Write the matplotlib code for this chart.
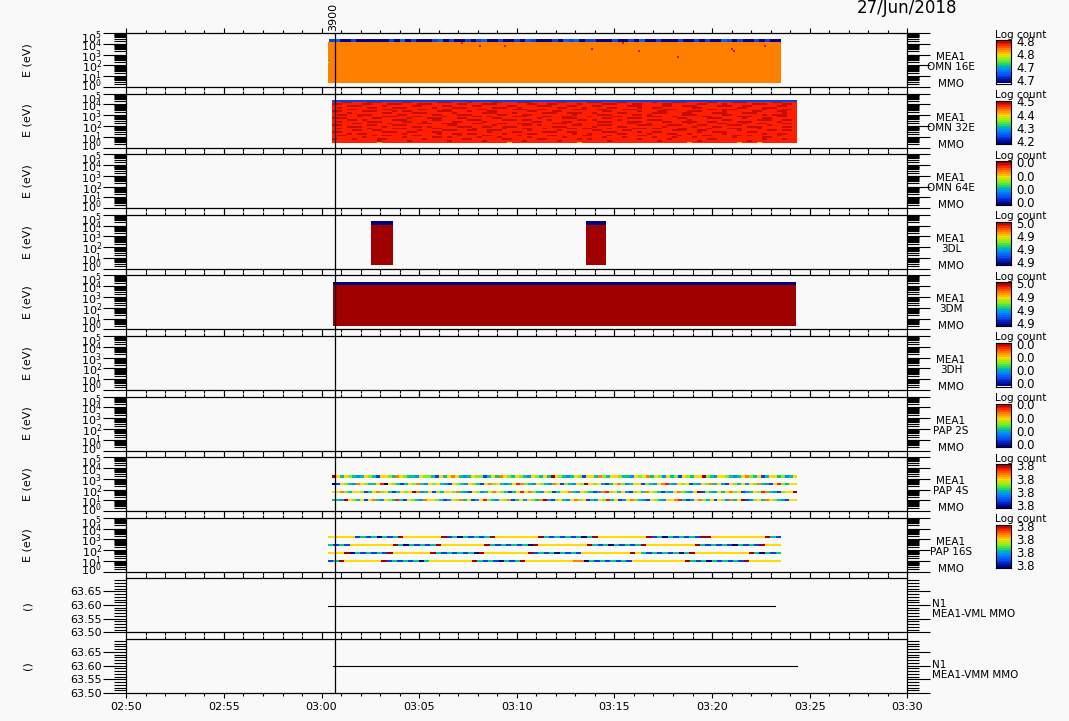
import numpy as np
import matplotlib
matplotlib.use('Agg')
import matplotlib.pyplot as plt
from matplotlib.colors import LinearSegmentedColormap
from matplotlib.ticker import LogLocator, MultipleLocator, FixedLocator, NullFormatter
from matplotlib.transforms import ScaledTranslation

plt.rcParams['font.family'] = 'DejaVu Sans'
plt.rcParams['mathtext.default'] = 'regular'

BG = '#f9f9f9'

# time is minutes after 02:50
time_ticks = [0, 5, 10, 15, 20, 25, 30, 35, 40]
time_labels = ['02:50', '02:55', '03:00', '03:05', '03:10', '03:15', '03:20', '03:25', '03:30']
marker_time = 10.7
marker_label = '3900'
date_label = '27/Jun/2018'

panel_names = [['MEA1', 'OMN 16E', 'MMO'], ['MEA1', 'OMN 32E', 'MMO'], ['MEA1', 'OMN 64E', 'MMO'],
               ['MEA1', '3DL', 'MMO'], ['MEA1', '3DM', 'MMO'], ['MEA1', '3DH', 'MMO'],
               ['MEA1', 'PAP 2S', 'MMO'], ['MEA1', 'PAP 4S', 'MMO'], ['MEA1', 'PAP 16S', 'MMO']]
cbar_labels = [['4.8', '4.8', '4.7', '4.7'], ['4.5', '4.4', '4.3', '4.2'], ['0.0', '0.0', '0.0', '0.0'],
               ['5.0', '4.9', '4.9', '4.9'], ['5.0', '4.9', '4.9', '4.9'], ['0.0', '0.0', '0.0', '0.0'],
               ['0.0', '0.0', '0.0', '0.0'], ['3.8', '3.8', '3.8', '3.8'], ['3.8', '3.8', '3.8', '3.8']]
line_names = [['N1', 'MEA1-VML MMO'], ['N1', 'MEA1-VMM MMO']]

# colour code -> level on the colour bar
levels = {'n': 0.0, 'b': 0.15, 'C': 0.21, 'c': 0.3, 'g': 0.4, 'l': 0.52, 'y': 0.65, 's': 0.72, 'o': 0.78,
          'R': 0.88, 'r': 1.0, '.': 0.88, 'd': 0.95}

# OMN 16E
omn16_time = [10.33, 33.53]
omn16_top_time = [10.38, 33.53]
omn16_log_e = [0.39, 4.15, 4.45]
omn16_top = 'bCnnbnnnnnnbnCnbnnnbCnbnnbnbCnnbnnbnCbnnnbnCbCnbbnnnbnnbnCnnbnnnbnnbnbnnCbnbnnbnbnn'
omn16_dot_time = [17.18, 18.10, 19.40, 23.84, 25.43, 26.25, 28.25, 31.01, 31.11, 32.70]
omn16_dot_log_e = [4.05, 3.77, 3.77, 3.52, 4.05, 3.32, 2.77, 3.52, 3.32, 3.77]
omn16_edge_time = [10.35, 10.35]
omn16_edge_log_e = [2.43, 2.33]

# OMN 32E
omn32_time = [10.53, 34.35]
omn32_log_e = [0.39, 4.25, 4.43]
omn32_rows = [
    '..dd...ddd....dd.....ddd...d....dd...ddd.....dd....ddd...dd.....d...ddd....dd...ddd.....dd...',
    'dd....dd...ddd...ddd.....dd...ddd......dd..dd....d....ddd...dd....dd.....dd...d.....ddd...dd.',
    '...ddd....d.....dd....dd....dd.....dd....ddd...dd...dd.....ddd....dd..ddd....ddd..dd.....dd..',
    '.d.....dd...ddd.....d...ddd.....ddd..d.......dd...d....dd....d..dd......dd.......dd...ddd....',
    '...dd.....dd.....dd...dd.....dd.....ddd..dd.....ddd..dd...ddd.....ddd......dd.ddd.....d...dd.',
    'dd....ddd...d.dd.....ddd...d...dd......dd...dd........dd.....d...dd....ddd....d.....dd...dd..',
    '...d......dd....ddd.....d.....ddd...d.....ddd..ddd..d....dd.....ddd...dd....ddd...ddd.....d..',
    '.dd..ddd.....dd.....dd...ddd.....dd...dd........d....ddd....dd.d......ddd.....dd......d.ddd..',
    '.....d....ddd...dd....d.....dd.d....ddd...dd..dd...d....dd.....ddd..d.....dd.....ddd.....dd..',
    'ddd.....dd.....d...ddd...dd.....dd.......d....ddd.....dd...ddd.......dd....ddd....d...dd.....',
    '...dd.d.....ddd.....dd.....ddd....ddd.dd...d.....dd.d....d.....ddd.....d......dd.....ddd..dd.',
    '.d.....ddd....dd..d.....dd....d.........dd....dd.....ddd...ddd....dd..ddd..dd....ddd.....d...',
    '....dd.....d.....ddd..ddd...dd...dd..ddd....ddd..d.........dd..d.......d.....dd...d..dd...dd.',
    'dd.....dd...ddd........dd.......d.....dd.d......dd...ddd.....ddd...ddd...dd....ddd.....d.....',
    '...ddd....d.....dd.d.....ddd..dd..ddd.......ddd.....d....dd.......d.....d...dd.....ddd....dd.',
    '.d.....d....ddd.....dd......d.....d...dd..d....dd.dd...d....ddd.dd...dd....d...ddd...d.......',
    '....dd..dd.......d....ddd..dd..ddd.....d.....d......dd....dd........ddd..dd......d.....dd.dd.',
    'dd........ddd..dd...dd.........d....dd....ddd..dd.....ddd....d..dd.......d..ddd....dd........',
    '...d.dd.......d......d..dd.dd.....d....dd.......d..d.....dd....d...dd..d......d.......d..dd..',
    '.dd.....d.dd....dd.......d....dd.....d.....dd.....dd...d.....dd......d....dd....dd.d.....d...',
    '......d.......d.....dd.d.....d...d.....d......d.......d...d.....d...d...d.......d.....dd.....',
    'd...d....dd.......d.......dd......dd.....dd......d.d.........d.....d.......dd.........d...d..',
    '.........d.....d.......d......d.......d......d.........d.........d.......d.........d..........',
    '.........s.........................s.............s.....................s.........s...s.......',
]
omn32_top = 'b' * 93

# 3DL
dl_times = [[12.53, 13.66], [23.55, 24.57]]
dl_log_e = [0.35, 4.1, 4.38]

# 3DM
dm_time = [10.58, 34.3]
dm_log_e = [0.35, 4.1, 4.38]

# PAP 4S
pap4_time = [10.53, 34.35]
pap4_log_e = [3.23, 2.50, 1.76, 1.03]
pap4_rows = [
    'rygylgcgylgbyylgoylggcyllgbygyoygcgyllbgygoylgylgcylgygrylgcgylbyygolgyylggcylyogylcyglbylgyyrlgcyylgcgyolgybgyyglcgy',
    'nbylgcoylggyRnylgbgylogcylygcbylgcylgbyolygcgyRolgcylgcoyblgcylrylycbgyolcgyyblgcyoRgcylybgcylogycbylgycylogcbyRlgyy',
    'yyolgyylbgyolygbgylyrocgyblgyylogcbylcgyoylgbgyRyolgcylbgyyogcylgbcoRlygycblygoylgbgcyolgcyrblgcygyolybcgylRogcblyyr',
    'ggcrylgybyogcylgRgbylgcoyylgbcylogybcyRlgcylobgycylgorcblygcyolybgcylRgybcyolgcbylgcyyoRgbcyolgybylcogyrbclygoylgcbyy',
]

# PAP 16S
pap16_time = [10.33, 33.53]
pap16_log_e = [3.22, 2.46, 1.72, 0.99]
pap16_rows = [
    'yyyyybgbgngbgryyyyyyyrbgngbgbgryyyyyyyyrgbgbgbgngryyyyyyyyyrbgngbgbgbrryyyyyyyyyyrgb',
    'gbgbyyyyyyyyrgngbgbgryyyyyyyyrgbgbgbgnryyyyyyyyyrgbgngbgbgryyyyyyyyyrgbgbgbngbgbryyy',
    'yyyrngbgbgbryyyyyyyrgbgbgbgnryyyyyyyyrbgbgngbgbyyyyyyyyyrygbgbgbgngryyyyyyyyyyrgngbg',
    'bgryyyyyyyrbgbgbgngyyyyyyyyrgbgbngbgryyyyyyyyyoongbgbgbgbyyyyyyyyyyrgbgngbgbgbryyyyyy',
]

# VML, VMM
vml_time = [10.33, 33.23]
vml_value = [63.597, 63.597]
vmm_time = [10.6, 34.35]
vmm_value = [63.597, 63.597]

rainbow = LinearSegmentedColormap.from_list('rainbow_mea', [
    (0.0, '#000080'), (0.15, '#0a40f0'), (0.3, '#0090ff'), (0.4, '#00c890'), (0.52, '#80f020'),
    (0.65, '#ffdc00'), (0.78, '#ff8000'), (0.88, '#ff2000'), (1.0, '#a00000')], N=256)

W, H = 1069, 721
LEFT, WIDTH = 126.3, 781
TOPS = [33 + 60.6 * i for i in range(11)]
PANEL_H = 54


def strip(ax, t_range, log_e, codes):
    t = np.linspace(t_range[0], t_range[1], len(codes) + 1)
    vals = [[levels[c] for c in codes]]
    ax.pcolormesh(t, np.power(10.0, log_e), vals, cmap=rainbow, vmin=0, vmax=1, antialiased=False,
                  linewidth=0)


fig = plt.figure(figsize=(W / 100, H / 100), dpi=100, facecolor=BG)
axes = []
for i, top in enumerate(TOPS):
    ax = fig.add_axes([LEFT / W, 1 - (top + PANEL_H) / H, WIDTH / W, PANEL_H / H], facecolor=BG)
    axes.append(ax)
    ax.set_xlim(0, 40)
    ax.xaxis.set_major_locator(FixedLocator(time_ticks))
    ax.xaxis.set_minor_locator(MultipleLocator(1))
    ax.tick_params(axis='x', which='major', direction='out', top=True, bottom=True, length=3.6, width=0.8,
                   labelbottom=i == 10, labelsize=8, pad=3)
    ax.tick_params(axis='x', which='minor', direction='out', top=True, bottom=True, length=2.2, width=0.8)
    if i == 10:
        ax.set_xticklabels(time_labels)
    for s in ax.spines.values():
        s.set_linewidth(0.9)
    if i < 9:
        ax.set_yscale('log')
        ax.set_ylim(1, 1e5)
        ax.yaxis.set_major_locator(FixedLocator([1, 10, 100, 1000, 1e4, 1e5]))
        ax.set_yticklabels(['$10^{%d}$' % k for k in range(6)])
        ax.yaxis.set_minor_locator(LogLocator(base=10, subs=np.arange(2, 10), numticks=12))
        ax.yaxis.set_minor_formatter(NullFormatter())
        ax.set_ylabel('E (eV)', fontsize=8)
        ax.yaxis.set_label_coords(-0.12, 0.5)
        ax.text(951, H - (top + 24), panel_names[i][0], transform=None, fontsize=7.5, ha='center', va='center')
        ax.text(951, H - (top + 34), panel_names[i][1], transform=None, fontsize=7.5, ha='center', va='center')
        ax.text(951, H - (top + 51), panel_names[i][2], transform=None, fontsize=7.5, ha='center', va='center')
        # colour bar beside the panel
        cax = fig.add_axes([996 / W, 1 - (top + 50.5) / H, 14.5 / W, 43.5 / H])
        cax.imshow(np.linspace(1, 0, 24).reshape(-1, 1), cmap=rainbow, vmin=0, vmax=1, aspect='auto',
                   extent=[0, 1, 0, 1], interpolation='nearest')
        cax.set_xticks([])
        cax.yaxis.tick_right()
        cax.set_yticks([0.07, 0.37, 0.67, 0.98])
        cax.set_yticklabels(cbar_labels[i][::-1], fontsize=8.5)
        cax.tick_params(axis='y', length=0, pad=4)
        cax.text(1021, H - (top + 1.5), 'Log count', transform=None, fontsize=7.5, ha='center', va='center')
    else:
        ax.set_ylim(63.5, 63.697)
        ax.yaxis.set_major_locator(FixedLocator([63.5, 63.55, 63.6, 63.65]))
        ax.set_yticklabels(['63.50', '63.55', '63.60', '63.65'])
        ax.yaxis.set_minor_locator(MultipleLocator(0.01))
        ax.set_ylabel('()', fontsize=8)
        ax.yaxis.set_label_coords(-0.12, 0.5)
        names = line_names[i - 9]
        ax.text(932, H - (top + 26), names[0], transform=None, fontsize=7.5, ha='left', va='center')
        ax.text(932, H - (top + 36), names[1], transform=None, fontsize=7.5, ha='left', va='center')
    ax.tick_params(axis='y', which='major', direction='out', left=True, right=True, length=16.5, width=0.8,
                   labelsize=8, pad=1)
    ax.tick_params(axis='y', which='minor', direction='out', left=True, right=True, length=8.6, width=0.8)
    if i < 9:
        # end labels nudged into the panel height, as in the original
        labels = ax.get_yticklabels()
        labels[0].set_transform(labels[0].get_transform() + ScaledTranslation(0, 3.5 / 100, fig.dpi_scale_trans))
        labels[-1].set_transform(labels[-1].get_transform() + ScaledTranslation(0, -3 / 100, fig.dpi_scale_trans))

# OMN 16E
ax = axes[0]
strip(ax, omn16_time, omn16_log_e[:2], 'o')
strip(ax, omn16_top_time, omn16_log_e[1:], omn16_top)
ax.scatter(omn16_dot_time, np.power(10.0, omn16_dot_log_e), marker='s', s=4, c='#e01000', linewidths=0, zorder=3)
ax.scatter(omn16_edge_time, np.power(10.0, omn16_edge_log_e), marker='s', s=1.5, c=['#0090ff', '#80f020'],
           linewidths=0, zorder=3)

# OMN 32E
ax = axes[1]
row_edges = np.linspace(omn32_log_e[0], omn32_log_e[1], len(omn32_rows) + 1)
for k, row in enumerate(omn32_rows):
    strip(ax, omn32_time, row_edges[len(omn32_rows) - k - 1:len(omn32_rows) - k + 1], row.ljust(93, '.')[:93])
strip(ax, omn32_time, omn32_log_e[1:], omn32_top)

# 3DL
ax = axes[3]
for t_range in dl_times:
    strip(ax, t_range, dl_log_e[:2], 'r')
    strip(ax, t_range, dl_log_e[1:], 'n')

# 3DM
ax = axes[4]
strip(ax, dm_time, dm_log_e[:2], 'r')
strip(ax, dm_time, dm_log_e[1:], 'n')

# PAP 4S
ax = axes[7]
for e, row in zip(pap4_log_e, pap4_rows):
    strip(ax, pap4_time, [e - 0.12, e + 0.12], row)

# PAP 16S
ax = axes[8]
for e, row in zip(pap16_log_e, pap16_rows):
    strip(ax, pap16_time, [e - 0.11, e + 0.11], row)

# VML, VMM
axes[9].plot(vml_time, vml_value, color='black', lw=0.8)
axes[10].plot(vmm_time, vmm_value, color='black', lw=0.8)

# marker line across all panels
over = fig.add_axes([LEFT / W, 1 - (TOPS[-1] + PANEL_H) / H, WIDTH / W, (TOPS[-1] + PANEL_H - TOPS[0]) / H])
over.set_xlim(0, 40)
over.axis('off')
over.patch.set_alpha(0)
over.axvline(marker_time, color='black', lw=0.9)
fig.text(333.5 / W, 1 - 17 / H, marker_label, rotation=90, fontsize=8, ha='center', va='center')
fig.text(907 / W, 1 - 8 / H, date_label, fontsize=12, ha='center', va='center')

fig.savefig('out.png', dpi=100, facecolor=BG)
